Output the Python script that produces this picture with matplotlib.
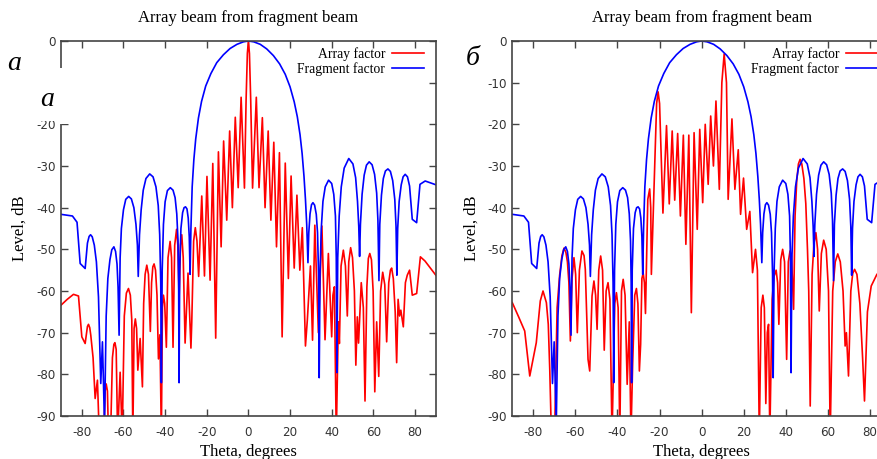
import matplotlib
matplotlib.use('Agg')
import matplotlib.pyplot as plt
from matplotlib.patches import Rectangle

plt.rcParams['axes.unicode_minus'] = False

# ---------------- data (theta in degrees, level in dB) ----------------
blue_theta = [-90, -84.5, -82.3, -80.8, -78.4, -77.3, -76.5, -75.8, -75.0, -74.0, -73.0, -72.0, -70.9, -70.1, -69.1,
              -68.3, -67.5, -66.5, -65.6, -64.6, -63.8, -63.1, -62.6, -62.1,
              -61.6, -61.0, -60.0, -58.9, -57.5, -56.2, -55.0, -54.0, -53.3, -52.9,
              -52.3, -51.5, -50.5, -49.2, -47.4, -45.8, -44.4, -43.3, -42.6, -42.1, -41.8,
              -41.4, -40.8, -40.0, -38.9, -37.5, -36.2, -35.2, -34.4, -33.8, -33.5, -33.3,
              -33.0, -32.4, -31.6, -30.9, -30.2, -29.5, -28.9, -28.4, -28.0,
              -27.6, -27.0, -26.2, -25.3, -24.0, -22.5, -20.5, -18.0, -15.2, -12.0, -8.8, -5.5, -2.4, 0,
              2.6, 5.7, 8.8, 12.0, 15.0, 17.7, 20.0, 22.0, 23.5, 24.8, 25.8, 26.7, 27.4, 28.0, 28.6,
              29.0, 29.6, 30.3, 31.0, 31.8, 32.6, 33.2, 33.7, 34.0,
              34.4, 35.0, 35.8, 36.9, 38.5, 40.0, 41.0, 41.8, 42.2, 42.5,
              42.9, 43.6, 44.6, 46.0, 48.2, 50.2, 51.5, 52.4, 53.0, 53.4,
              53.8, 54.6, 55.6, 56.7, 58.0, 59.4, 60.6, 61.6, 62.2, 62.7,
              63.1, 63.9, 64.8, 65.8, 67.0, 68.2, 69.3, 70.3, 70.9, 71.3,
              71.7, 72.4, 73.4, 74.3, 75.3, 76.4, 77.4, 78.7, 80.8, 82.4, 84.9, 90]
blue_level = [-41.6, -42.0, -43.5, -53.4, -54.6, -48.5, -46.9, -46.5, -47.0, -49.0, -53.0, -61.4, -82.2, -72.2, -92,
              -66.0, -57.0, -52.5, -50.1, -49.4, -50.5, -53.5, -59.0, -70.6,
              -52.0, -45.0, -40.5, -38.0, -37.3, -37.9, -40.0, -44.0, -49.0, -56.5,
              -46.5, -40.5, -35.8, -33.0, -31.9, -32.6, -35.0, -39.5, -46.5, -58.0, -82.0,
              -55.0, -44.0, -38.6, -35.9, -35.2, -35.8, -37.6, -41.5, -48.0, -58.0, -82.0,
              -55.0, -45.0, -41.2, -40.0, -39.8, -40.3, -42.5, -47.0, -56.0,
              -45.0, -35.0, -28.5, -23.5, -18.5, -14.5, -10.8, -7.8, -5.2, -3.3, -1.8, -0.8, -0.2, 0,
              -0.2, -0.8, -1.9, -3.5, -5.5, -8.0, -11.0, -14.6, -18.2, -22.5, -27.0, -32.5, -38.0, -44.0, -53.2,
              -46.0, -41.5, -39.3, -38.8, -39.4, -41.6, -46.0, -56.0, -80.8,
              -56.0, -45.0, -38.5, -35.0, -33.4, -34.2, -36.8, -42.0, -52.0, -79.6,
              -52.0, -42.0, -35.0, -30.5, -28.2, -29.5, -32.8, -38.5, -44.5, -51.7,
              -44.0, -36.8, -32.2, -29.8, -29.0, -29.7, -32.0, -36.5, -43.0, -57.5,
              -44.0, -37.0, -33.0, -31.2, -30.7, -31.3, -33.5, -38.0, -44.5, -56.2,
              -45.0, -38.5, -34.5, -32.6, -32.0, -32.6, -34.8, -42.8, -43.6, -34.4, -33.6, -34.5]

red_a_theta = [-90, -87.0, -84.0, -81.6, -80.0, -78.4, -77.3, -76.8, -76.2, -75.7, -74.6, -73.6, -72.5, -71.6,
               -69.5, -68.8, -68.3, -67.7, -67.2, -66.2, -65.3, -64.6, -64.1, -63.5, -62.8, -61.6, -60.6,
               -59.6, -58.6, -57.6, -56.7, -56.0, -55.5, -54.9, -54.3, -53.7, -53.1, -52.0, -50.9,
               -50.3, -49.6, -48.8, -48.0, -47.1, -46.5, -45.9, -45.3, -44.6, -43.9, -43.2, -42.5, -41.8,
               -41.3, -40.8, -40.2, -39.4, -38.6, -37.6, -36.9, -36.2, -35.4, -34.5, -33.9, -33.3,
               -32.6, -32.0, -31.3, -30.4, -29.0, -27.6, -27.2, -26.3, -25.5, -24.7, -23.9,
               -22.4, -21.1, -19.9, -18.4, -17.1, -15.7, -14.4, -13.1, -11.9, -10.4, -9.0, -7.7,
               -6.3, -4.9, -3.5, -1.9, -1.1, -0.5, 0,
               0.5, 1.1, 2.0, 3.8, 5.1, 6.7, 8.0, 9.5, 10.8, 12.2, 13.5, 14.9, 16.2, 17.7, 19.2,
               20.5, 22.0, 23.3, 24.7, 25.9, 27.4, 28.3, 29.8, 30.8, 31.9, 33.6, 35.3, 36.8, 38.4,
               40.0, 40.6, 41.3, 42.2, 43.2, 43.7, 44.5, 45.6, 46.6, 47.5, 48.2, 49.1, 50.0, 50.9,
               51.6, 52.3, 52.9, 54.2, 55.2, 56.0, 56.9, 57.6, 58.3, 59.1, 59.9, 60.7, 61.6, 62.6,
               63.5, 64.5, 65.5, 66.4, 67.4, 68.2, 68.8, 69.6, 70.5, 71.2, 71.9, 72.6, 73.2, 74.4,
               75.4, 76.3, 77.4, 78.7, 80.8, 82.6, 84.8, 90]
red_a_level = [-63.4, -62.0, -60.8, -61.2, -71.0, -72.6, -68.5, -68.0, -68.8, -70.6, -76.0, -85.8, -81.4, -95,
               -95, -84.0, -82.3, -84.0, -95, -95, -76.0, -72.8, -72.4, -74.0, -95, -79.5, -95,
               -66.0, -60.5, -59.4, -61.0, -67.0, -95, -69.0, -66.7, -69.0, -79.0, -71.4, -83.0,
               -63.0, -56.0, -53.8, -56.0, -69.7, -58.0, -54.2, -53.5, -55.0, -61.0, -76.3, -70.5, -95,
               -64.0, -61.0, -63.0, -73.5, -52.0, -48.1, -52.0, -73.5, -49.0, -45.2, -49.0, -62.0,
               -49.0, -46.5, -52.0, -72.5, -55.7, -73.7, -67.5, -48.0, -44.8, -48.0, -56.5,
               -37.2, -56.4, -32.5, -57.4, -29.4, -71.3, -26.6, -49.4, -24.0, -43.0, -21.6, -40.0,
               -18.3, -35.2, -13.5, -35.3, -14.0, -3.0, 0,
               -3.0, -14.0, -35.3, -13.5, -35.2, -18.4, -40.0, -21.6, -43.0, -24.3, -49.4, -26.8, -71.0, -29.3, -57.0,
               -32.4, -54.5, -37.0, -55.0, -44.8, -73.2, -67.0, -54.0, -71.8, -44.2, -70.0, -44.4, -71.7, -51.0,
               -71.0, -61.0, -59.0, -95, -67.4, -72.6, -54.0, -50.2, -54.0, -66.0, -53.0, -49.6, -52.0, -60.0,
               -77.8, -66.2, -72.5, -58.0, -64.0, -86.4, -59.0, -52.2, -51.0, -52.5, -60.0, -84.2, -67.4, -80.5,
               -60.0, -55.5, -58.5, -72.2, -58.0, -55.0, -54.5, -57.0, -65.0, -77.2, -62.0, -66.0, -64.6, -68.6,
               -58.0, -56.2, -55.0, -61.0, -60.6, -51.8, -52.8, -56.2]

red_b_theta = [-90, -87.0, -84.1, -81.7, -78.6, -76.7, -75.4, -73.8, -72.9, -72.2, -71.4, -69.9,
               -68.7, -67.5, -66.4, -65.4, -64.5, -63.8, -63.1, -62.4, -61.6, -60.7, -59.9, -59.1,
               -58.1, -56.9, -55.9, -55.3, -54.0, -53.2, -52.1, -51.2, -50.4, -49.7, -48.9, -48.0,
               -47.1, -46.3, -45.4, -44.5, -43.6, -42.6, -41.3, -40.5, -39.7, -38.9, -38.1, -37.3,
               -36.4, -35.4, -34.4, -33.6, -32.8, -31.8, -31.0, -30.3, -29.6, -29.0, -28.4, -27.8,
               -27.2, -26.7, -25.6, -24.7, -24.2, -23.9,
               -22.3, -21.4, -20.7, -20.0, -19.2, -18.4, -16.7, -15.4,
               -14.0, -12.8, -11.4, -10.1, -8.7, -7.5, -6.1, -4.9, -3.6, -2.1, -0.9, 0.5, 1.7, 3.1,
               4.3, 5.6, 6.8, 8.4, 9.6, 10.7, 11.8, 12.6, 14.4, 15.8, 17.4, 18.5, 19.9, 21.4, 22.9,
               24.2, 25.6, 26.5, 27.4, 28.3, 29.1, 29.8, 30.5, 31.2, 31.8, 32.4, 33.5, 34.4, 35.4,
               36.1, 36.7, 37.6, 38.5, 39.4, 40.4, 41.2, 42.0, 42.7, 43.7, 44.4, 45.2, 46.0, 46.8,
               47.6, 48.6, 49.5, 50.3, 50.9, 51.6, 52.5, 53.4, 54.3, 55.1, 55.9, 56.9, 58.0, 59.2,
               60.3, 61.1, 62.3, 63.5, 64.7, 65.9, 67.2, 68.2, 68.8, 69.8, 70.9, 71.8, 72.7, 73.8,
               75.2, 76.5, 77.4, 78.8, 80.6, 83.3, 90]
red_b_level = [-62.8, -66.2, -69.6, -80.4, -72.4, -62.4, -60.0, -62.8, -68.0, -78.8, -95, -95,
               -64.0, -56.2, -51.5, -49.7, -50.8, -53.0, -58.0, -72.0, -57.0, -52.0, -56.0, -70.0,
               -55.0, -50.4, -51.5, -54.8, -76.4, -79.2, -61.2, -57.6, -61.0, -69.2, -55.0, -51.6,
               -55.0, -74.2, -60.0, -58.0, -62.0, -95, -63.0, -60.4, -64.0, -95, -60.0, -57.2,
               -61.0, -82.4, -67.4, -95, -77.6, -61.0, -59.4, -63.0, -79.2, -72.8, -57.0, -55.7,
               -58.0, -65.4, -38.0, -35.5, -40.0, -56.0,
               -30.0, -15.0, -12.2, -15.0, -28.0, -41.3, -20.3, -39.1,
               -21.6, -38.2, -22.2, -42.0, -22.6, -48.8, -22.6, -65.2, -22.0, -45.2, -21.2, -38.8, -20.0, -34.4,
               -18.0, -30.0, -14.4, -35.6, -10.0, -3.1, -10.0, -38.0, -18.7, -35.6, -26.1, -41.6, -32.9, -45.2, -40.9,
               -55.6, -50.0, -55.0, -95, -64.0, -61.0, -64.0, -87.0, -70.0, -68.0, -95, -62.0, -56.5, -55.0,
               -58.0, -68.0, -52.5, -50.0, -53.0, -76.4, -53.0, -50.4, -51.6, -64.4, -42.0, -33.5, -29.5, -28.4,
               -29.5, -33.0, -39.0, -50.0, -60.0, -87.6, -56.0, -48.5, -46.0, -50.0, -64.8, -51.0, -47.8, -50.0,
               -60.0, -95, -60.0, -53.0, -51.1, -53.0, -60.0, -73.2, -70.0, -80.4, -60.0, -55.8, -54.8, -56.0,
               -63.0, -76.0, -86.4, -65.0, -58.8, -56.0, -53.0]

x_ticks = [-80, -60, -40, -20, 0, 20, 40, 60, 80]
y_ticks = [0, -10, -20, -30, -40, -50, -60, -70, -80, -90]
title_text = "Array beam from fragment beam"
xlabel_text = "Theta, degrees"
ylabel_text = "Level, dB"
legend_labels = ["Array factor", "Fragment factor"]
panel_labels = ["a", "a", "б"]

# ---------------- figure ----------------
W, H = 877, 459
fig = plt.figure(figsize=(W / 100, H / 100), dpi=100)
SERIF = 'Liberation Serif'
SANS = 'DejaVu Sans'
GRAY = '#444444'


def add_ax(x0, x1, y0, y1):
    return fig.add_axes([x0 / W, 1 - y1 / H, (x1 - x0) / W, (y1 - y0) / H])


def style(ax, red_t, red_l, leg_x, hide_minus10=False):
    ax.plot(red_t, red_l, color='#ff0000', lw=1.2, label=legend_labels[0])
    ax.plot(blue_theta, blue_level, color='#0000ff', lw=1.2, label=legend_labels[1])
    ax.set_xlim(-90, 90)
    ax.set_ylim(-90, 0)
    ax.set_xticks(x_ticks)
    ax.set_yticks(y_ticks)
    ylabels = [str(v) for v in y_ticks]
    if hide_minus10:
        ylabels[1] = ''
    ax.set_yticklabels(ylabels)
    ax.tick_params(direction='in', length=4.7, width=1, color=GRAY, top=True, right=True,
                   labelsize=8.6, labelcolor='#333333')
    ax.tick_params(axis='x', pad=7.5)
    ax.tick_params(axis='y', pad=4.0)
    for lab in ax.get_xticklabels() + ax.get_yticklabels():
        lab.set_family(SANS)
    for s in ax.spines.values():
        s.set_color(GRAY)
        s.set_linewidth(1.2)
    ax.legend(loc='upper right', frameon=False, markerfirst=False,
              prop={'family': SERIF, 'size': 9.8}, handlelength=2.35,
              handletextpad=0.5, labelspacing=0.1, borderaxespad=0, borderpad=0,
              bbox_to_anchor=(leg_x / W, 1 - 47 / H), bbox_transform=fig.transFigure)


axa = add_ax(61, 435.8, 41, 416)
axb = add_ax(512.3, 891, 41, 416)
style(axa, red_a_theta, red_a_level, 424, hide_minus10=True)
style(axb, red_b_theta, red_b_level, 878)

for cx, lx in [(248.3, 20), (701.7, 472)]:
    fig.text(cx / W, 1 - 18 / H, title_text, ha='center', va='center', family=SERIF, fontsize=12)
    fig.text(cx / W, 1 - 451.5 / H, xlabel_text, ha='center', va='center', family=SERIF, fontsize=12)
    fig.text(lx / W, 1 - 228.5 / H, ylabel_text, ha='center', va='center', rotation=90,
             family=SERIF, fontsize=12)

# white box that hides part of the left axis behind the second label
fig.add_artist(Rectangle((33 / W, 1 - 120.5 / H), 38 / W, 52.5 / H, transform=fig.transFigure,
                         facecolor='white', edgecolor='none', zorder=5))
fig.add_artist(Rectangle((58 / W, 1 - 124 / H), 13 / W, 4 / H, transform=fig.transFigure,
                         facecolor='white', edgecolor='none', zorder=5))

fig.text(14 / W, 1 - 70 / H, panel_labels[0], ha='center', va='baseline', family=SERIF,
         style='italic', fontsize=20, zorder=6)
fig.text(47.5 / W, 1 - 106 / H, panel_labels[1], ha='center', va='baseline', family=SERIF,
         style='italic', fontsize=20, zorder=6)
fig.text(472.5 / W, 1 - 65 / H, panel_labels[2], ha='center', va='baseline', family=SERIF,
         style='italic', fontsize=20, zorder=6)

fig.savefig('out.png', dpi=100)
